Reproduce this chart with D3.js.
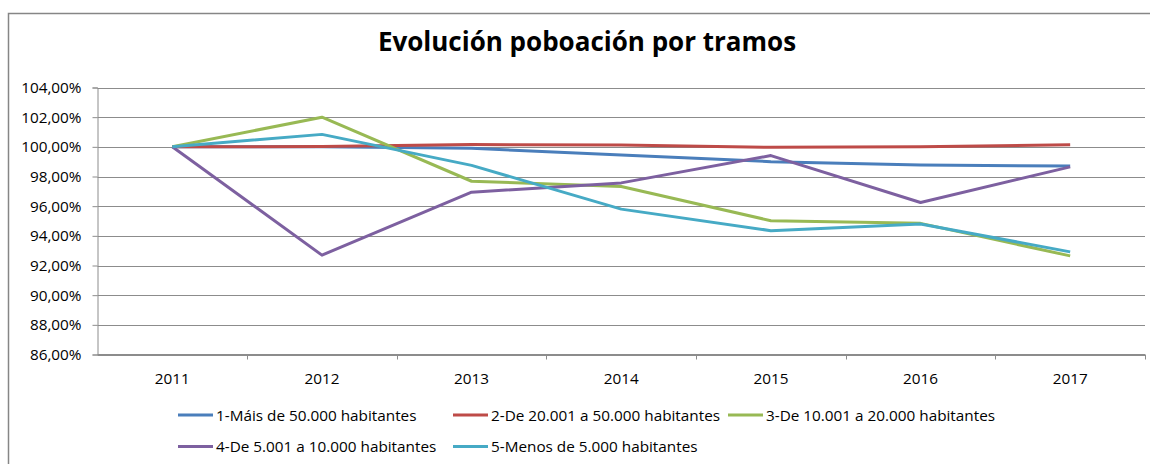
<!DOCTYPE html>
<html>
<head>
<meta charset="utf-8">
<script src="https://cdn.jsdelivr.net/npm/d3@7"></script>
<style>
  body { margin: 0; background: #fff; }
  svg { display: block; font-family: "Open Sans", sans-serif; }
</style>
</head>
<body>
<div id="chart"></div>
<script>
// categories and tick labels
const years = ["2011", "2012", "2013", "2014", "2015", "2016", "2017"];
const yTicks = [86, 88, 90, 92, 94, 96, 98, 100, 102, 104];

// series names, values (in %)
const seriesNames = [
    "1-Máis de 50.000 habitantes",
    "2-De 20.001 a 50.000 habitantes",
    "3-De 10.001 a 20.000 habitantes",
    "4-De 5.001 a 10.000 habitantes",
    "5-Menos de 5.000 habitantes"
];
const mais50000 = [100, 100.0, 99.9, 99.45, 99.0, 98.78, 98.7];
const de20001 = [100, 100.02, 100.15, 100.12, 99.97, 100.0, 100.14];
const de10001 = [100, 102.0, 97.68, 97.33, 95.02, 94.84, 92.65];
const de5001 = [100, 92.7, 96.94, 97.57, 99.41, 96.25, 98.65];
const menos5000 = [100, 100.84, 98.75, 95.8, 94.35, 94.8, 92.92];
const seriesValues = [mais50000, de20001, de10001, de5001, menos5000];
const colors = ["#4A7EBB", "#BE4B48", "#98B954", "#7D60A0", "#46AAC5"];

const W = 1150, H = 464;
const margin = {left: 97.5, right: 5, top: 87.5, bottom: 109.5};
const labelSize = 15.3;

let svg = d3.select("#chart")
    .append("svg")
    .attr("width", W)
    .attr("height", H);

// outer frame of the chart (runs off the right and bottom edges)
svg.append("rect")
    .attr("x", 8.5)
    .attr("y", 13.5)
    .attr("width", W)
    .attr("height", H)
    .attr("fill", "none")
    .attr("stroke", "#868686")
    .attr("stroke-width", 1.5);

// title
svg.append("text")
    .attr("x", 587)
    .attr("y", 51)
    .attr("text-anchor", "middle")
    .attr("font-size", 26)
    .attr("font-weight", "bold")
    .attr("fill", "#000")
    .text("Evolución poboación por tramos");

let x = d3.scaleBand()
    .domain(years)
    .range([margin.left, W - margin.right]);

let y = d3.scaleLinear()
    .domain([86, 104])
    .range([H - margin.bottom, margin.top]);

// horizontal gridlines
svg.append("g")
    .selectAll("line")
    .data(yTicks)
    .enter()
    .append("line")
    .attr("x1", margin.left)
    .attr("x2", W - margin.right)
    .attr("y1", d => Math.round(y(d)) + 0.5)
    .attr("y2", d => Math.round(y(d)) + 0.5)
    .attr("stroke", "#8c8c8c")
    .attr("stroke-width", 1);

// y axis
let yAxis = svg.append("g")
    .attr("transform", "translate(" + margin.left + ",0)")
    .call(d3.axisLeft(y)
        .tickValues(yTicks)
        .tickSize(5)
        .tickPadding(11)
        .tickFormat(d => d.toFixed(2).replace(".", ",") + "%"));
yAxis.select(".domain").attr("stroke", "#8c8c8c");
yAxis.selectAll(".tick line").attr("stroke", "#8c8c8c");
yAxis.selectAll(".tick text")
    .attr("font-family", "Open Sans")
    .attr("font-size", labelSize)
    .attr("fill", "#000");

// x axis with ticks between categories
let xAxis = svg.append("g")
    .attr("transform", "translate(0," + (H - margin.bottom) + ")");
xAxis.append("line")
    .attr("x1", margin.left)
    .attr("x2", W - margin.right)
    .attr("stroke", "#8c8c8c");
xAxis.selectAll(".sep")
    .data(years.slice(1).concat(["end"]))
    .enter()
    .append("line")
    .attr("x1", (d, i) => Math.round(x(years[0]) + x.step() * (i + 1)) + 0.5)
    .attr("x2", (d, i) => Math.round(x(years[0]) + x.step() * (i + 1)) + 0.5)
    .attr("y1", 0)
    .attr("y2", 5)
    .attr("stroke", "#8c8c8c");
xAxis.selectAll("text")
    .data(years)
    .enter()
    .append("text")
    .attr("x", d => x(d) + x.bandwidth() / 2)
    .attr("y", 29)
    .attr("text-anchor", "middle")
    .attr("font-size", labelSize)
    .attr("fill", "#000")
    .text(d => d);

// lines
let line = d3.line()
    .x((d, i) => x(years[i]) + x.bandwidth() / 2)
    .y(d => y(d));

svg.append("g")
    .selectAll("path")
    .data(seriesValues)
    .enter()
    .append("path")
    .attr("d", d => line(d))
    .attr("fill", "none")
    .attr("stroke", (d, i) => colors[i])
    .attr("stroke-width", 3)
    .attr("stroke-linejoin", "round");

// legend, two rows
const legendPos = [[178, 415], [453, 415], [728, 415], [178, 446.5], [453, 446.5]];
let legend = svg.append("g")
    .selectAll("g")
    .data(seriesNames)
    .enter()
    .append("g")
    .attr("transform", (d, i) => "translate(" + legendPos[i][0] + "," + legendPos[i][1] + ")");

legend.append("line")
    .attr("x1", 0)
    .attr("x2", 35)
    .attr("stroke", (d, i) => colors[i])
    .attr("stroke-width", 3);

legend.append("text")
    .attr("x", 38)
    .attr("y", 5.5)
    .attr("font-size", labelSize)
    .attr("fill", "#000")
    .text(d => d);
</script>
</body>
</html>
